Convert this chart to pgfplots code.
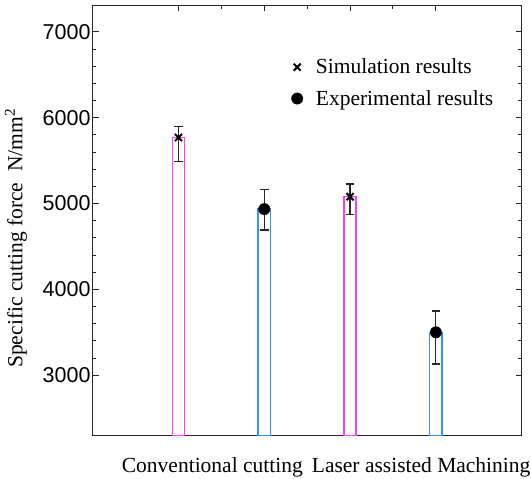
\documentclass[border=0pt]{standalone}
\usepackage{pgfplots}
\pgfplotsset{compat=1.18}
\usepackage{fontspec}
\setmainfont{Liberation Serif}
\newfontfamily\arial{Liberation Sans}
\definecolor{mag}{HTML}{FF3CFF}
\definecolor{blu}{HTML}{2E94FF}
\newcommand{\bigf}{\fontsize{21.5bp}{24bp}\selectfont}
\begin{document}
\begin{tikzpicture}
\begin{axis}[
  name=ax,
  at={(0,0)}, anchor=south west,
  scale only axis, width=429bp, height=430bp,
  xmin=0, xmax=5, ymin=2300, ymax=7310,
  axis line style={black!85, line width=1.1bp},
  xtick={1,2,3,4}, xticklabels={}, minor x tick num=1, xtick pos=right,
  ytick={3000,4000,5000,6000,7000}, minor y tick num=4, ytick pos=both, yticklabel pos=left,
  tick align=inside,
  major tick length=6bp, minor tick length=3.5bp,
  every tick/.style={black!85, line width=1bp},
  yticklabel style={font=\arial\bigf, inner sep=2bp},
  /pgf/number format/assume math mode=true,
  /pgf/number format/1000 sep={},
  ylabel={Specific cutting force\ \ N/mm\textsuperscript{2}},
  ylabel style={font=\bigf, at={(rel axis cs:-0.179,0.458)}, anchor=center},
  legend style={draw=none, fill=none, font=\bigf, at={(rel axis cs:0.456,0.885)}, anchor=north west, row sep=11bp, column sep=11bp, cells={anchor=west}},
]
\addplot[ybar, bar width=12.3bp, bar shift=0pt, draw=mag, line width=1.5bp, fill=none, forget plot] coordinates {(1,5770) (3,5080)};
\addplot[ybar, bar width=12.3bp, bar shift=0pt, draw=blu, line width=1.5bp, fill=none, forget plot] coordinates {(2,4935) (4,3500)};
\addplot[only marks, mark=x, mark size=5bp, mark options={line width=2bp, black},
  error bars/.cd, y dir=both, y explicit, error mark=|,
  error bar style={black!85, line width=1.2bp},
  error mark options={black!85, line width=1.2bp, mark size=4.3bp}]
  coordinates {(1,5770) += (0,128) -= (0,282) (3,5080) += (0,148) -= (0,205)};
\addlegendentry{Simulation results}
\addplot[only marks, mark=*, mark size=5.7bp, mark options={black},
  error bars/.cd, y dir=both, y explicit, error mark=|,
  error bar style={black!85, line width=1.2bp},
  error mark options={black!85, line width=1.2bp, mark size=4.3bp}]
  coordinates {(2,4935) += (0,225) -= (0,243) (4,3500) += (0,248) -= (0,369)};
\addlegendentry{Experimental results}
\end{axis}
\node[anchor=base west, inner sep=0, font=\bigf, xshift=29bp, yshift=-37bp] at (ax.south west) {Conventional cutting};
\node[anchor=base west, inner sep=0, font=\bigf, xshift=219bp, yshift=-37bp] at (ax.south west) {Laser assisted Machining};
\pgfresetboundingbox
\path[use as bounding box] (-92.7bp,-43.7bp) rectangle (438.3bp,435.3bp);
\end{tikzpicture}
\end{document}
